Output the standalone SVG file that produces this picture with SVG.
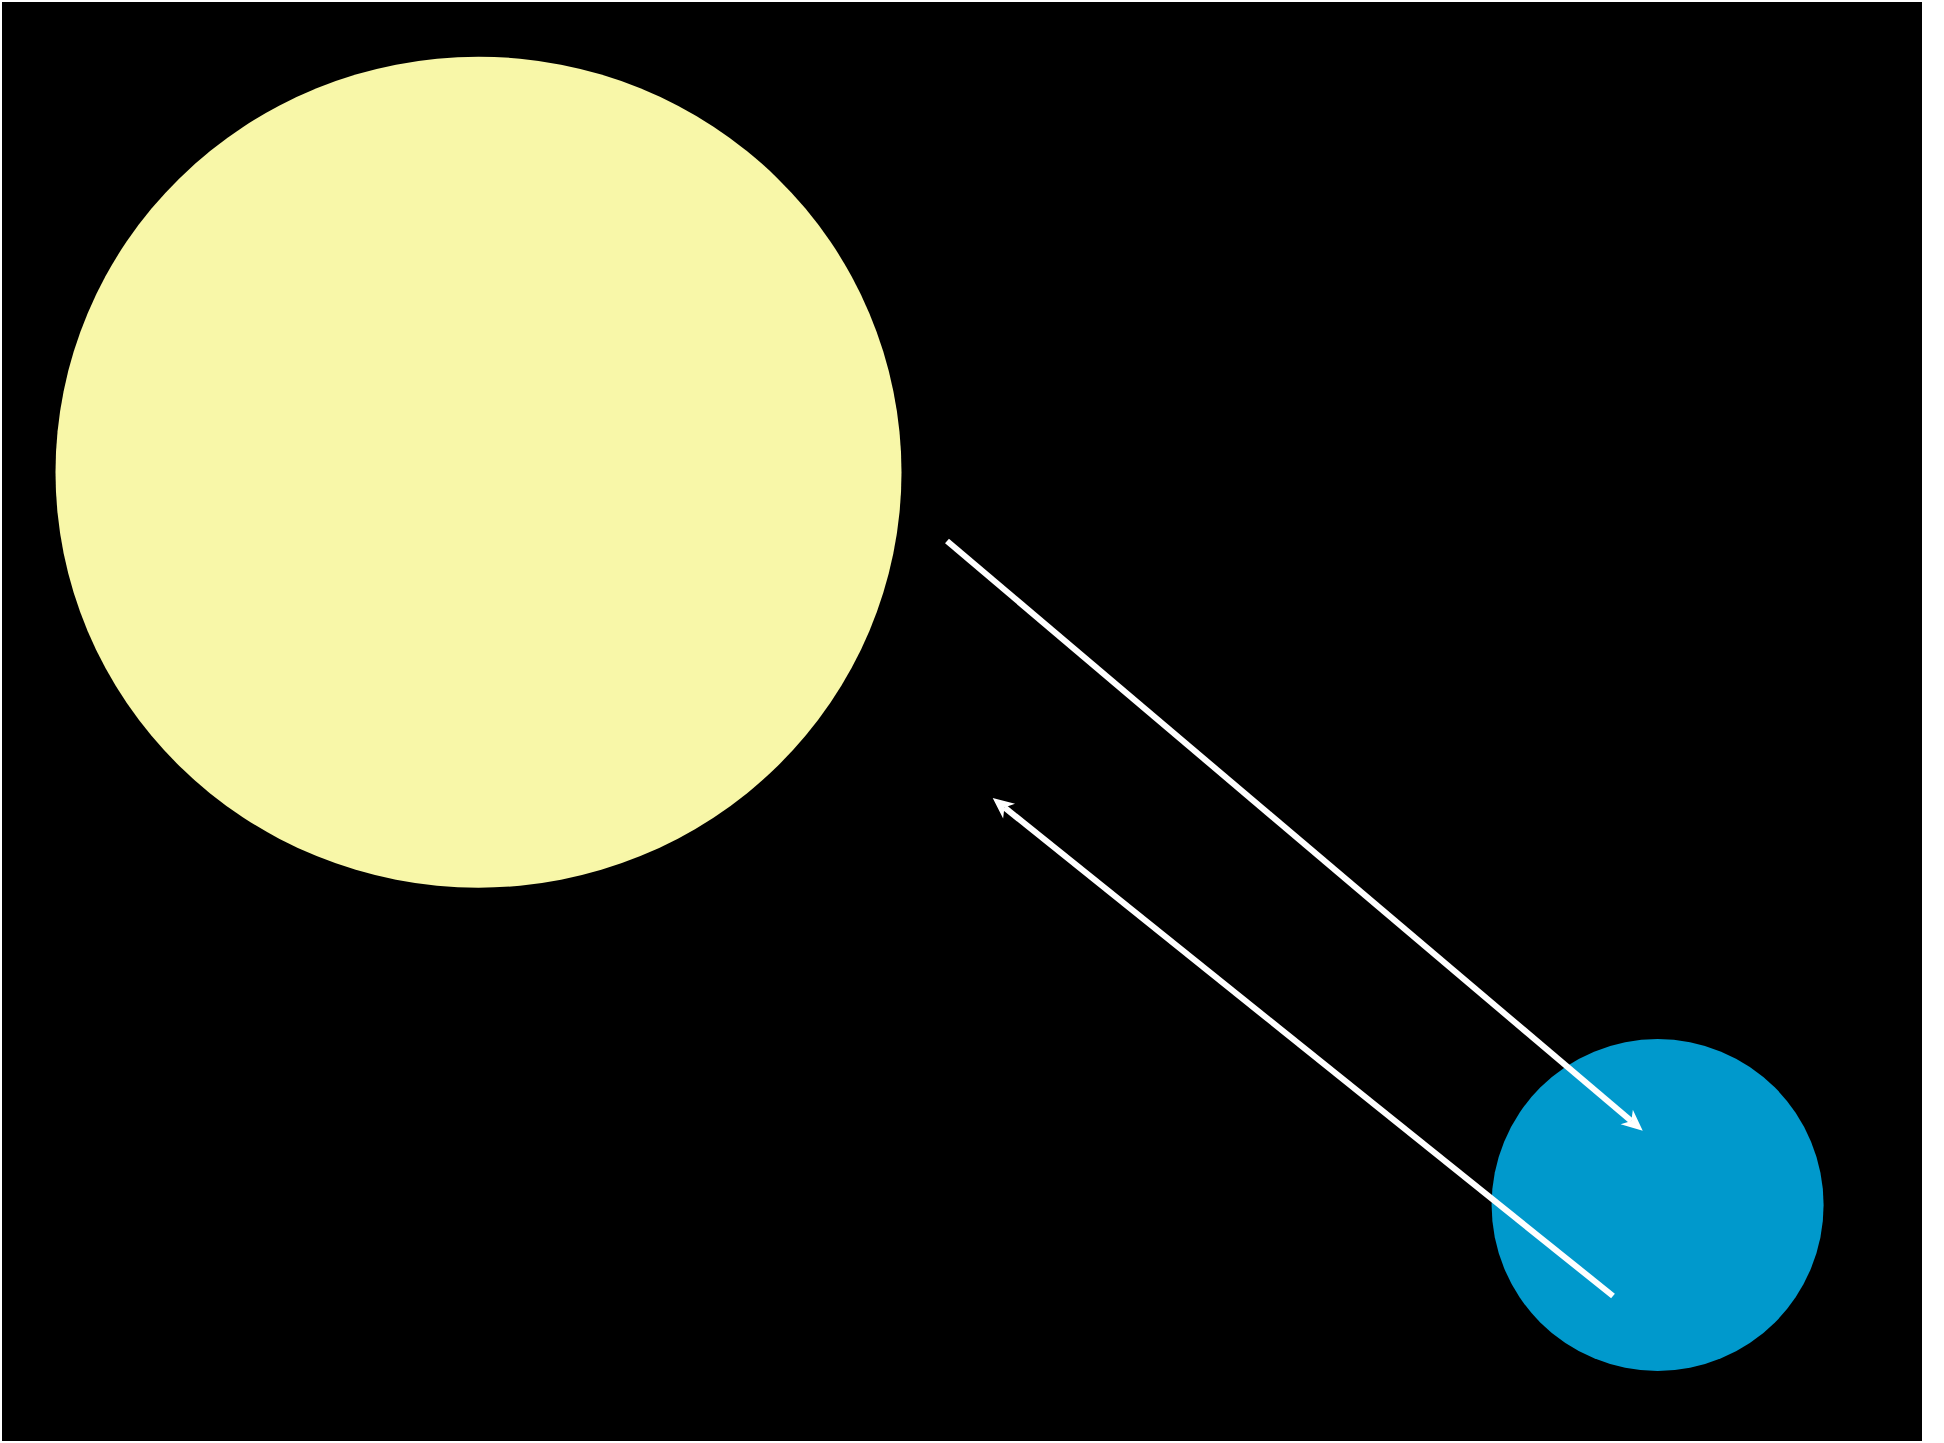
<svg xmlns="http://www.w3.org/2000/svg" width="1944" height="1443" viewBox="0 0 1944 1443">
<style>
.edge{stroke:#ffffff;stroke-width:6;fill:none}
</style>
<defs>
<marker id="ah" markerUnits="userSpaceOnUse" markerWidth="30" markerHeight="30" refX="0" refY="0" viewBox="-10 -15 30 30" orient="auto" overflow="visible">
<path d="M15,0 L-6,-9.5 L0,0 L-6,9.5 Z" fill="#ffffff"/>
</marker>
</defs>
<rect x="0" y="0" width="1944" height="1443" fill="#ffffff"/>
<rect id="background" x="2" y="2" width="1920" height="1439" fill="#000000"/>
<g id="node-yellow"><ellipse cx="478.5" cy="472.2" rx="423" ry="415.5" fill="#f8f7a8"/></g>
<g id="node-blue"><circle cx="1657.6" cy="1205" r="166" fill="#0099cc"/></g>
<g id="connectors">
<line class="edge" x1="947" y1="541" x2="1631.3" y2="1121" marker-end="url(#ah)"/>
<line class="edge" x1="1613" y1="1296" x2="1004.4" y2="807.4" marker-end="url(#ah)"/>
</g>
</svg>
